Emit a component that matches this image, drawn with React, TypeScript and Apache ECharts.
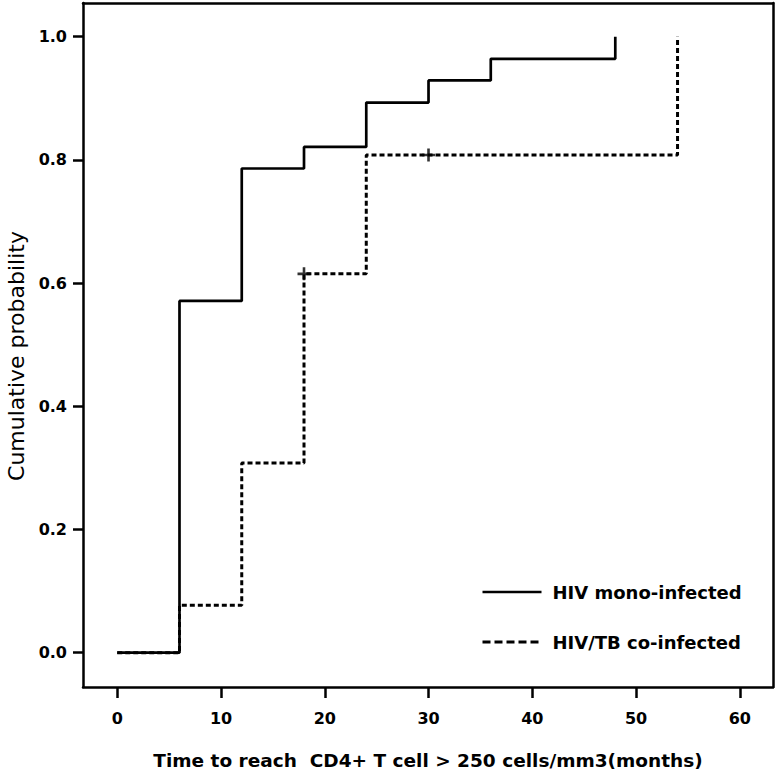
import React, { useEffect, useRef } from "react";
import * as echarts from "echarts";

const xTicks = [0, 10, 20, 30, 40, 50, 60];
const yTicks = [0, 0.2, 0.4, 0.6, 0.8, 1.0];

const monoName = "HIV mono-infected";
const coName = "HIV/TB co-infected";

// Kaplan-Meier style step data: [month, cumulative probability]
const monoInfected: [number, number][] = [
  [0, 0], [6, 0.571], [12, 0.786], [18, 0.821], [24, 0.893], [30, 0.929], [36, 0.964], [48, 1.0],
];
const coInfected: [number, number][] = [
  [0, 0], [6, 0.077], [12, 0.308], [18, 0.615], [24, 0.808], [54, 1.0],
];
const coInfectedCensored: [number, number][] = [
  [18, 0.615], [30, 0.808],
];

const xTitle = "Time to reach  CD4+ T cell > 250 cells/mm3(months)";
const yTitle = "Cumulative probability";

const FONT = "DejaVu Sans";
const PLUS = "path://M5.2,0h2.6v5.2h5.2v2.6h-5.2v5.2h-2.6v-5.2h-5.2v-2.6h5.2z";
const X_MIN = -3.3, X_MAX = 63.2, Y_MIN = -0.0557, Y_MAX = 1.0547;

export default function App() {
  const ref = useRef<HTMLDivElement>(null);
  useEffect(() => {
    if (!ref.current) return;
    const chart = echarts.init(ref.current, undefined, { renderer: "svg" });
    const frameAxis = {
      type: "value",
      axisLine: { show: true, onZero: false, lineStyle: { color: "#000", width: 2.5 } },
      axisTick: { show: false },
      axisLabel: { show: false },
      splitLine: { show: false },
    };
    chart.setOption({
      animation: false,
      backgroundColor: "#fff",
      grid: {
        left: 83, right: 3, top: 3, bottom: 84,
        containLabel: false,
        outerBoundsMode: "none",
      },
      legend: {
        orient: "vertical",
        left: 476, top: 578,
        itemWidth: 59, itemHeight: 14, itemGap: 32,
        textStyle: { fontFamily: FONT, fontWeight: "bold", fontSize: 18, color: "#000", padding: [0, 0, 0, 6] },
        data: [
          { name: monoName, itemStyle: { color: "rgba(0,0,0,0)", borderWidth: 0 }, lineStyle: { color: "#000", width: 2.7, type: "solid" } },
          { name: coName, itemStyle: { color: "rgba(0,0,0,0)", borderWidth: 0 }, lineStyle: { color: "#000", width: 3, type: [8, 4] } },
        ],
      },
      xAxis: [
        {
          type: "value",
          min: X_MIN, max: X_MAX,
          name: xTitle,
          nameLocation: "middle",
          nameGap: 64,
          nameTextStyle: { fontFamily: FONT, fontWeight: "bold", fontSize: 18.5, color: "#000" },
          axisLine: { show: true, onZero: false, lineStyle: { color: "#000", width: 2.5 } },
          axisTick: { show: true, customValues: xTicks, length: 11, lineStyle: { color: "#000", width: 2.5 } },
          axisLabel: { customValues: xTicks, margin: 23, fontFamily: FONT, fontWeight: "bold", fontSize: 16, color: "#000" },
          splitLine: { show: false },
        },
        { ...frameAxis, position: "top", min: X_MIN, max: X_MAX },
      ],
      yAxis: [
        {
          type: "value",
          min: Y_MIN, max: Y_MAX,
          name: yTitle,
          nameLocation: "middle",
          nameGap: 40,
          nameRotate: 90,
          nameTextStyle: { fontFamily: FONT, fontSize: 22, color: "#000", padding: [0, 22, 0, 0] },
          axisLine: { show: true, onZero: false, lineStyle: { color: "#000", width: 2.5 } },
          axisTick: { show: true, customValues: yTicks, length: 10, lineStyle: { color: "#000", width: 2.5 } },
          axisLabel: {
            customValues: yTicks, margin: 16, fontFamily: FONT, fontWeight: "bold", fontSize: 16, color: "#000",
            formatter: (v: number) => v.toFixed(1),
          },
          splitLine: { show: false },
        },
        { ...frameAxis, position: "right", min: Y_MIN, max: Y_MAX },
      ],
      series: [
        {
          name: monoName, type: "line", step: "end", data: monoInfected,
          symbol: "none", showSymbol: false,
          lineStyle: { color: "#000", width: 2.7, type: "solid" },
          itemStyle: { color: "#000" },
        },
        {
          name: coName, type: "line", step: "end", data: coInfected,
          symbol: "none", showSymbol: false,
          lineStyle: { color: "#000", width: 3, type: [5, 3] },
          itemStyle: { color: "#000" },
        },
        {
          name: "censored", type: "scatter", data: coInfectedCensored,
          symbol: PLUS, symbolSize: 13,
          itemStyle: { color: "#000" },
        },
      ],
    });
    return () => chart.dispose();
  }, []);
  return <div ref={ref} style={{ width: 776, height: 771, position: "absolute", left: 0, top: 0 }} />;
}
